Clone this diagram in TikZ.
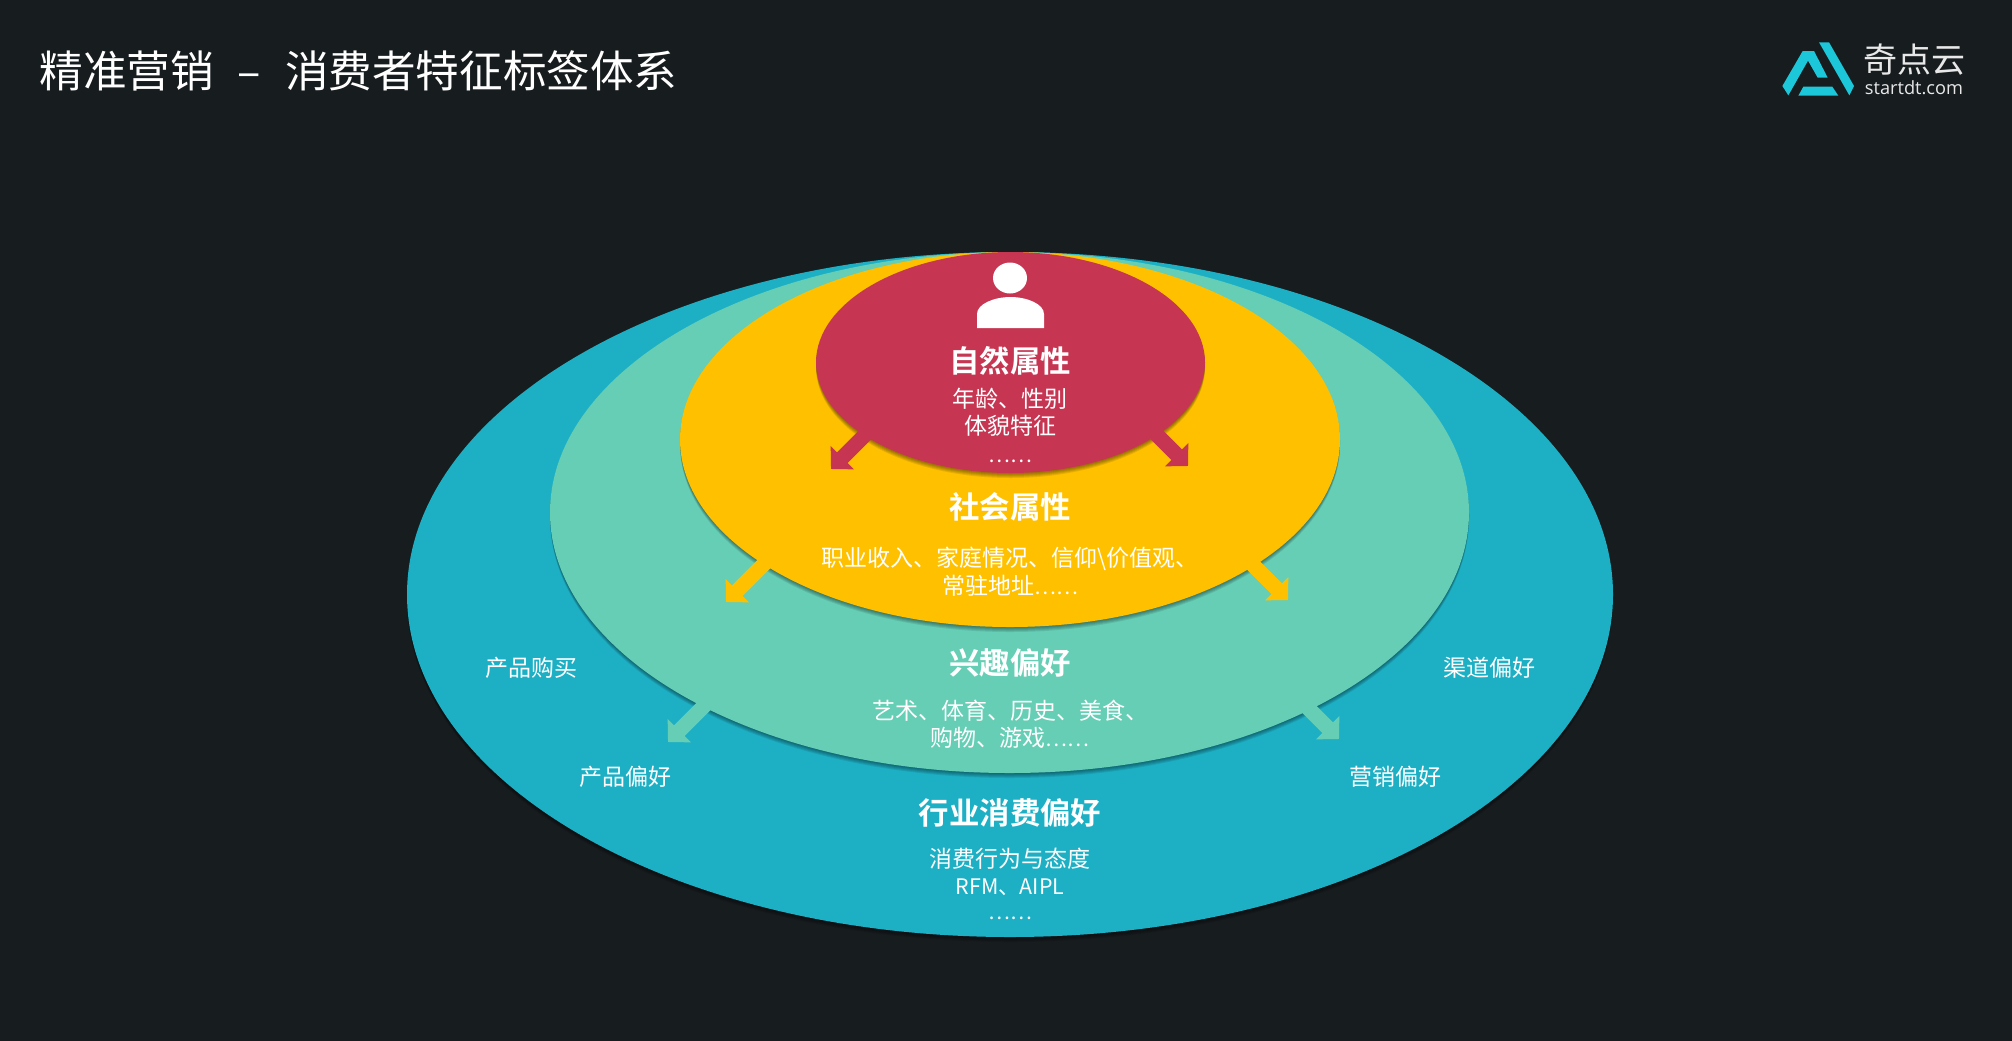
\documentclass[tikz,border=0pt]{standalone}
\usepackage{fontspec}
\usetikzlibrary{shapes.geometric,arrows.meta}
\newfontfamily\cjk[BoldFont=* Bold]{Noto Sans CJK SC}
\newfontfamily\logolatin{Open Sans}
\definecolor{bgc}{HTML}{171C1F}
\definecolor{tealc}{HTML}{1DB0C5}
\definecolor{greenc}{HTML}{65CEB5}
\definecolor{yellowc}{HTML}{FFC000}
\definecolor{redc}{HTML}{C63652}
\definecolor{logoc}{HTML}{1BC7D9}
\definecolor{logot}{HTML}{E8E8E8}
\newcommand{\softshadow}[4]{% cx cy rx ry
  \foreach \s in {1,...,5}{\fill[black,opacity=.09] (#1,#2+\s) ellipse ({#3} and {#4});}}
\newcommand{\smalldots}{{\fontsize{10.3pt}{12pt}\selectfont ……}}
\tikzset{
  disc/.style={ellipse,inner sep=0pt,outer sep=0pt,draw=none},
  heading/.style={font=\cjk\bfseries\fontsize{15.2pt}{16pt}\selectfont,text=white,inner sep=0pt,text height=13.3pt,text depth=1.9pt},
  body/.style={font=\cjk\fontsize{11.5pt}{13pt}\selectfont,text=white,inner sep=0pt,text height=11.1pt,text depth=1.4pt},
  flow/.style={line width=7.5pt,-{Triangle[length=8pt,width=16pt]}},
}
\begin{document}
\begin{tikzpicture}[x=0.5pt,y=-0.5pt]
\useasboundingbox (0,0) rectangle (2012,1040);
\fill[bgc] (-6,-6) rectangle (2018,1046);
% title
\node[anchor=west,inner sep=0pt,text=white,font=\cjk\fontsize{21.8pt}{24pt}\selectfont] (title) at (39,71) {精准营销\hspace{12pt}–\hspace{12pt}消费者特征标签体系};
% logo
\begin{scope}[shift={(1740,20)},x=0.16667pt,y=-0.16667pt]
\fill[logoc] (237,67) -- (267,67) -- (342,198) -- (328,226) -- cycle;
\fill[logoc] (127,198) -- (188,93) -- (222,93) -- (263,173) -- (233,173) -- (204,122) -- (145,226) -- cycle;
\fill[logoc] (190,200) -- (277,200) -- (295,227) -- (175,227) -- cycle;
\end{scope}
\node[inner sep=0pt,text=logot,font=\cjk\fontsize{17pt}{18pt}\selectfont] (logoA) at (1914,60) {奇点云};
\node[inner sep=0pt,text=logot,font=\logolatin\fontsize{9.1pt}{10pt}\selectfont] (logoB) at (1914,88) {startdt.com};
% teal
\softshadow{1010}{594.5}{603}{342.5}
\node[disc,fill=tealc,minimum width=603pt,minimum height=342.5pt] (teal) at (1010,594.5) {};
% green
\softshadow{1009.5}{512.5}{459.5}{260.5}
\coordinate (gLt) at (722,688); \coordinate (gLh) at (668,742);
\coordinate (gRt) at (1291,691); \coordinate (gRh) at (1339,739);
\draw[flow,greenc] (gLt) -- (gLh);
\draw[flow,greenc] (gRt) -- (gRh);
\node[disc,fill=greenc,minimum width=459.5pt,minimum height=260.5pt] (green) at (1009.5,512.5) {};
% yellow
\softshadow{1010}{439.5}{330}{187.5}
\coordinate (yLt) at (784,544); \coordinate (yLh) at (726,602);
\coordinate (yRt) at (1234,546); \coordinate (yRh) at (1288,600);
\draw[flow,yellowc] (yLt) -- (yLh);
\draw[flow,yellowc] (yRt) -- (yRh);
\node[disc,fill=yellowc,minimum width=330pt,minimum height=187.5pt] (yellow) at (1010,439.5) {};
% red
\softshadow{1010.5}{362.5}{194.5}{110.5}
\coordinate (rLt) at (880,420); \coordinate (rLh) at (831,469);
\coordinate (rRt) at (1140,418); \coordinate (rRh) at (1188,466);
\draw[flow,redc] (rLt) -- (rLh);
\draw[flow,redc] (rRt) -- (rRh);
\node[disc,fill=redc,minimum width=194.5pt,minimum height=110.5pt] (red) at (1010.5,362.5) {};
% person icon
\fill[white] (1010,278) ellipse (17 and 15.5);
\fill[white] (977,328) -- (977,314) .. controls (977,304) and (994,297) .. (1010.5,297) .. controls (1027,297) and (1044,304) .. (1044,314) -- (1044,328) -- cycle;
% texts
\node[heading] (t1) at (1010,361) {自然属性};
\node[body] (t1a) at (1010,398) {年龄、性别};
\node[body] (t1b) at (1010,425) {体貌特征};
\node[body] (t1c) at (1010,453) {\smalldots};
\node[heading] (t2) at (1010,507) {社会属性};
\node[body] (t2a) at (1010,557) {职业收入、家庭情况、信仰\textbackslash 价值观、};
\node[body] (t2b) at (1010,585) {常驻地址\smalldots};
\node[heading] (t3) at (1010,663) {兴趣偏好};
\node[body] (t3a) at (1010,710) {艺术、体育、历史、美食、};
\node[body] (t3b) at (1010,737) {购物、游戏\smalldots};
\node[heading] (t4) at (1010,813) {行业消费偏好};
\node[body] (t4a) at (1010,858) {消费行为与态度};
\node[body,font=\cjk\fontsize{10.7pt}{13pt}\selectfont] (t4b) at (1010,885) {RFM、AIPL};
\node[body] (t4c) at (1010,910) {\smalldots};
\node[body] (s1) at (531,667) {产品购买};
\node[body] (s2) at (1489,667) {渠道偏好};
\node[body] (s3) at (625,776) {产品偏好};
\node[body] (s4) at (1395,776) {营销偏好};
\end{tikzpicture}
\end{document}
